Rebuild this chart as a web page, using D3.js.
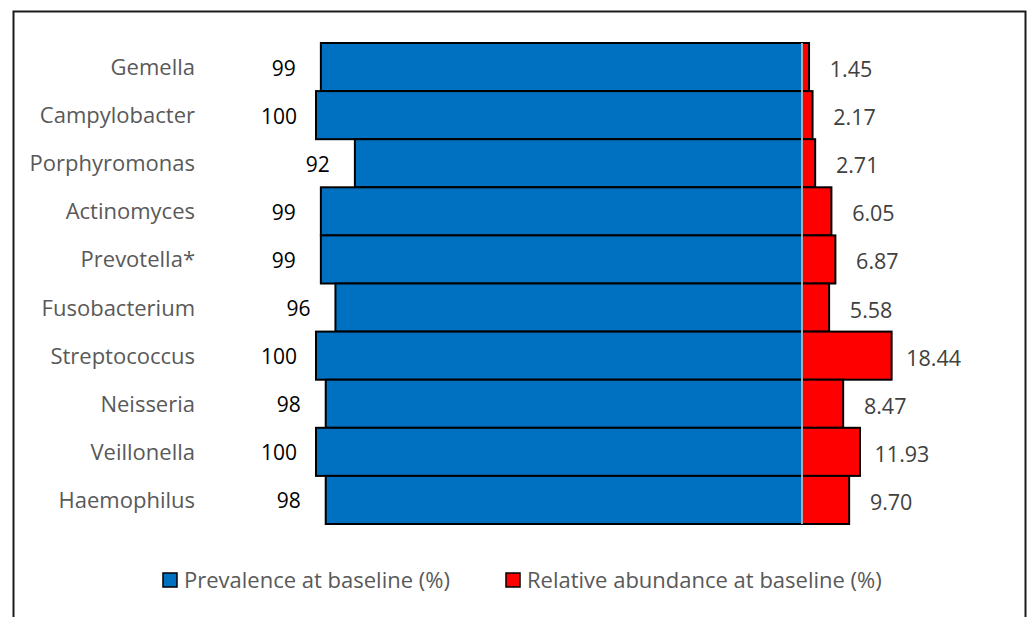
<!DOCTYPE html>
<html>
<head>
<meta charset="utf-8">
<script src="https://cdn.jsdelivr.net/npm/d3@7"></script>
<style>
  html, body { margin: 0; padding: 0; background: #fff; }
  svg { display: block; }
</style>
</head>
<body>
<svg id="chart" width="1030" height="617"></svg>
<script>
// Genera, top to bottom
const genera = ["Gemella", "Campylobacter", "Porphyromonas", "Actinomyces", "Prevotella*",
                "Fusobacterium", "Streptococcus", "Neisseria", "Veillonella", "Haemophilus"];
// Prevalence at baseline (%)
const prevalence = [99, 100, 92, 99, 99, 96, 100, 98, 100, 98];
// Relative abundance at baseline (%)
const abundance = [1.45, 2.17, 2.71, 6.05, 6.87, 5.58, 18.44, 8.47, 11.93, 9.70];
const seriesNames = ["Prevalence at baseline (%)", "Relative abundance at baseline (%)"];

const FONT = "'Open Sans', 'Noto Sans', sans-serif";
const BLUE = "#0070C0", RED = "#FF0000";

const svg = d3.select("#chart");

// outer frame
svg.append("rect")
  .attr("x", 13.5).attr("y", 11.5)
  .attr("width", 1012).attr("height", 640)
  .attr("fill", "none").attr("stroke", "#1a1a1a").attr("stroke-width", 2);

// shared value scale: prevalence extends left of zero, abundance right
const x = d3.scaleLinear().domain([-100, 100]).range([316, 1288]);
const y = d3.scaleBand().domain(genera).range([43, 524]).padding(0);

const rows = genera.map((g, i) => ({ g, p: prevalence[i], a: abundance[i] }));

const bars = svg.append("g");
bars.selectAll("rect.prev").data(rows).join("rect")
  .attr("class", "prev")
  .attr("x", d => x(-d.p)).attr("y", d => y(d.g))
  .attr("width", d => x(0) - x(-d.p)).attr("height", y.bandwidth())
  .attr("fill", BLUE).attr("stroke", "#000").attr("stroke-width", 2);

bars.selectAll("rect.abund").data(rows).join("rect")
  .attr("class", "abund")
  .attr("x", x(0)).attr("y", d => y(d.g))
  .attr("width", d => x(d.a) - x(0)).attr("height", y.bandwidth())
  .attr("fill", RED).attr("stroke", "#000").attr("stroke-width", 2);

// category axis line at zero
svg.append("line")
  .attr("x1", x(0)).attr("x2", x(0))
  .attr("y1", y.range()[0]).attr("y2", y.range()[1])
  .attr("stroke", "#e6e6e6").attr("stroke-width", 1.5);

// genus labels
svg.append("g").selectAll("text").data(rows).join("text")
  .attr("x", 195).attr("y", d => y(d.g) + y.bandwidth() / 2 + 8)
  .attr("text-anchor", "end")
  .attr("font-family", FONT).attr("font-size", 22).attr("fill", "#595959")
  .text(d => d.g);

// prevalence value labels
svg.append("g").selectAll("text").data(rows).join("text")
  .attr("x", d => x(-d.p) - 37).attr("y", d => y(d.g) + y.bandwidth() / 2 + 8.5)
  .attr("text-anchor", "middle")
  .attr("font-family", FONT).attr("font-size", 21).attr("fill", "#000")
  .text(d => d3.format("d")(d.p));

// abundance value labels
svg.append("g").selectAll("text").data(rows).join("text")
  .attr("x", d => x(d.a) + 42).attr("y", d => y(d.g) + y.bandwidth() / 2 + 10)
  .attr("text-anchor", "middle")
  .attr("font-family", FONT).attr("font-size", 21.5).attr("fill", "#404040")
  .text(d => d3.format(".2f")(d.a));

// legend
const legend = svg.append("g");
const legendItems = [
  { name: seriesNames[0], color: BLUE, x: 163 },
  { name: seriesNames[1], color: RED, x: 506 }
];
const li = legend.selectAll("g").data(legendItems).join("g")
  .attr("transform", d => `translate(${d.x},573)`);
li.append("rect").attr("width", 14).attr("height", 14)
  .attr("fill", d => d.color).attr("stroke", "#000").attr("stroke-width", 1.5);
li.append("text").attr("x", 21).attr("y", 14.5)
  .attr("font-family", FONT).attr("font-size", 22).attr("fill", "#595959")
  .text(d => d.name);
</script>
</body>
</html>
